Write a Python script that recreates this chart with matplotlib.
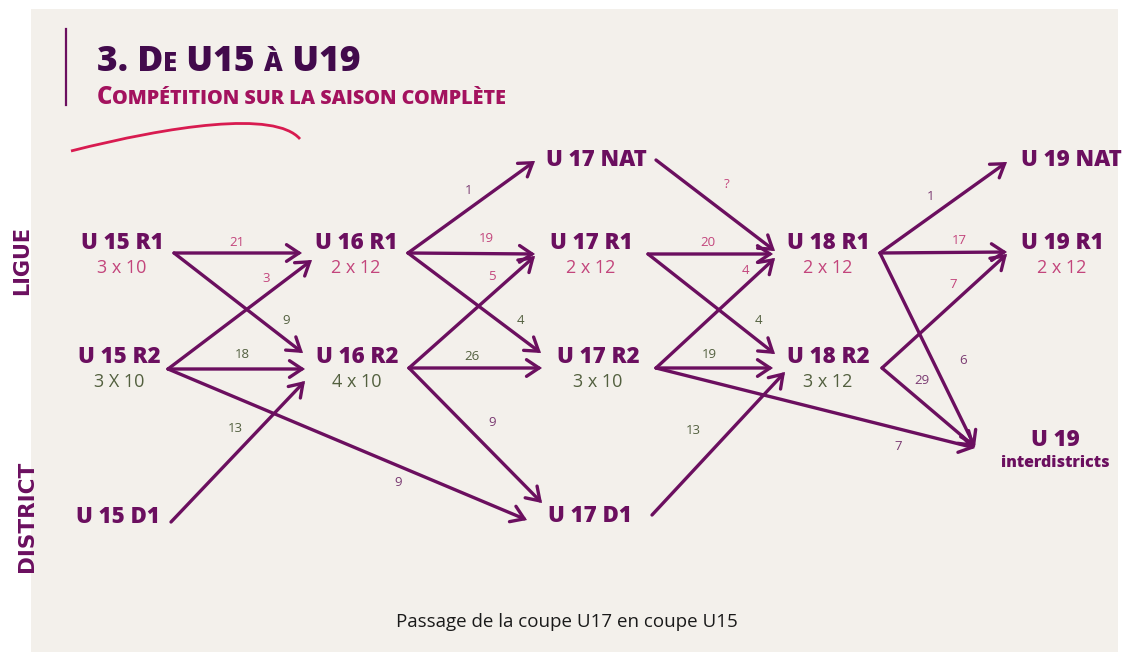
import matplotlib
matplotlib.use("Agg")
import matplotlib.pyplot as plt
from matplotlib.patches import FancyArrowPatch, Rectangle
from matplotlib.path import Path
from matplotlib.patches import PathPatch

# ---------------- data ----------------
node_ids = ["U15R1", "U15R2", "U15D1", "U16R1", "U16R2",
            "U17NAT", "U17R1", "U17R2", "U17D1",
            "U18R1", "U18R2", "U19NAT", "U19R1", "U19I"]
node_labels = ["U 15 R1", "U 15 R2", "U 15 D1", "U 16 R1", "U 16 R2",
               "U 17 NAT", "U 17 R1", "U 17 R2", "U 17 D1",
               "U 18 R1", "U 18 R2", "U 19 NAT", "U 19 R1", "U 19"]
node_sublabels = ["3 x 10", "3 X 10", "", "2 x 12", "4 x 10",
                  "", "2 x 12", "3 x 10", "",
                  "2 x 12", "3 x 12", "", "2 x 12", "interdistricts"]

edge_sources = ["U15R1", "U15R1", "U15R2", "U15R2", "U15R2", "U15D1",
                "U16R1", "U16R1", "U16R1", "U16R2", "U16R2", "U16R2",
                "U17NAT", "U17R1", "U17R1", "U17R2", "U17R2", "U17R2", "U17D1",
                "U18R1", "U18R1", "U18R1", "U18R2", "U18R2"]
edge_targets = ["U16R1", "U16R2", "U16R1", "U16R2", "U17D1", "U16R2",
                "U17NAT", "U17R1", "U17R2", "U17R1", "U17R2", "U17D1",
                "U18R1", "U18R1", "U18R2", "U18R1", "U18R2", "U19I", "U18R2",
                "U19NAT", "U19R1", "U19I", "U19R1", "U19I"]
edge_values = ["21", "9", "3", "18", "9", "13",
               "1", "19", "4", "5", "26", "9",
               "?", "20", "4", "4", "19", "7", "13",
               "1", "17", "6", "7", "29"]

title_parts = [("3. D", "big"), ("E", "small"), (" U15 ", "big"), ("À", "small"), (" U19", "big")]
subtitle_parts = [("C", "big"), ("OMPÉTITION SUR LA SAISON COMPLÈTE", "small")]
side_labels = ["LIGUE", "DISTRICT"]
caption = "Passage de la coupe U17 en coupe U15"

# ---------------- layout (pixel space) ----------------
W, H = 1122, 652
node_pos = {"U15R1": (122, 243), "U15R2": (119, 357), "U15D1": (118, 517),
            "U16R1": (356, 243), "U16R2": (357, 357),
            "U17NAT": (596, 160), "U17R1": (591, 243), "U17R2": (598, 357), "U17D1": (590, 516),
            "U18R1": (828, 243), "U18R2": (828, 357),
            "U19NAT": (1071, 160), "U19R1": (1062, 243), "U19I": (1055, 440)}
out_pt = {"U15R1": (174, 253), "U15R2": (168, 369), "U15D1": (171, 522),
          "U16R1": (408, 253), "U16R2": (409, 368),
          "U17NAT": (656, 160), "U17R1": (648, 254), "U17R2": (656, 368), "U17D1": (652, 515),
          "U18R1": (880, 253), "U18R2": (882, 368)}
tip_pt = {("U15R1", "U16R1"): (302, 253), ("U15R1", "U16R2"): (303, 353),
          ("U15R2", "U16R1"): (312, 260), ("U15R2", "U16R2"): (305, 369),
          ("U15R2", "U17D1"): (527, 520), ("U15D1", "U16R2"): (305, 381),
          ("U16R1", "U17NAT"): (535, 161), ("U16R1", "U17R1"): (535, 254),
          ("U16R1", "U17R2"): (541, 353), ("U16R2", "U17R1"): (535, 256),
          ("U16R2", "U17R2"): (542, 368), ("U16R2", "U17D1"): (542, 503),
          ("U17NAT", "U18R1"): (775, 251), ("U17R1", "U18R1"): (773, 254),
          ("U17R1", "U18R2"): (775, 354), ("U17R2", "U18R1"): (775, 258),
          ("U17R2", "U18R2"): (773, 368), ("U17R2", "U19I"): (975, 448),
          ("U17D1", "U18R2"): (785, 372),
          ("U18R1", "U19NAT"): (1007, 162), ("U18R1", "U19R1"): (1007, 252),
          ("U18R1", "U19I"): (975, 447), ("U18R2", "U19R1"): (1007, 254),
          ("U18R2", "U19I"): (975, 447)}
label_pt = {("U15R1", "U16R1"): (237, 242), ("U15R1", "U16R2"): (286, 321),
            ("U15R2", "U16R1"): (266, 279), ("U15R2", "U16R2"): (242, 354),
            ("U15R2", "U17D1"): (398, 482), ("U15D1", "U16R2"): (235, 428),
            ("U16R1", "U17NAT"): (469, 191), ("U16R1", "U17R1"): (486, 239),
            ("U16R1", "U17R2"): (520, 321), ("U16R2", "U17R1"): (492, 276),
            ("U16R2", "U17R2"): (472, 356), ("U16R2", "U17D1"): (492, 423),
            ("U17NAT", "U18R1"): (727, 185), ("U17R1", "U18R1"): (708, 242),
            ("U17R1", "U18R2"): (758, 321), ("U17R2", "U18R1"): (745, 270),
            ("U17R2", "U18R2"): (709, 355), ("U17R2", "U19I"): (898, 446),
            ("U17D1", "U18R2"): (693, 430),
            ("U18R1", "U19NAT"): (931, 197), ("U18R1", "U19R1"): (959, 241),
            ("U18R1", "U19I"): (963, 360), ("U18R2", "U19R1"): (953, 284),
            ("U18R2", "U19I"): (922, 380)}

# ---------------- style ----------------
BG = "#f3f0eb"
PURPLE = "#6b0f5f"
TITLE_C = "#420a4c"
MAGENTA = "#a3125e"
PINK = "#c3457c"
GREEN = "#53603f"
LBL_PURPLE = "#7a3a72"
RED = "#d81b50"
FONT = ["Open Sans", "DejaVu Sans"]
HEAVY = 800


def level_color(target):
    if target.endswith("R1"):
        return PINK
    if target.endswith("R2"):
        return GREEN
    return LBL_PURPLE


fig = plt.figure(figsize=(W / 100, H / 100), dpi=100)
fig.patch.set_facecolor("white")
ax = fig.add_axes([0, 0, 1, 1])
ax.set_xlim(0, W)
ax.set_ylim(H, 0)
ax.axis("off")

ax.add_patch(Rectangle((31, 9), 1087, 650, facecolor=BG, edgecolor="none", zorder=0))

# header bar and swoosh
ax.plot([66, 66], [29, 105], color=PURPLE, lw=1.6, zorder=2)
swoosh = Path([(71, 151), (170, 126), (275, 110), (300, 139)],
              [Path.MOVETO, Path.CURVE4, Path.CURVE4, Path.CURVE4])
ax.add_patch(PathPatch(swoosh, facecolor="none", edgecolor=RED, lw=2.0, zorder=2))

fig.canvas.draw()
renderer = fig.canvas.get_renderer()


def small_caps(parts, x0, y, sizes, color):
    x = x0
    for txt, kind in parts:
        t = ax.text(x, y, txt, fontsize=sizes[kind], fontweight=HEAVY, color=color,
                    family=FONT, va="baseline", ha="left", zorder=3)
        bb = t.get_window_extent(renderer=renderer)
        x += bb.width * (W / fig.bbox.width)


small_caps(title_parts, 97, 71, {"big": 25.5, "small": 18.5}, TITLE_C)
small_caps(subtitle_parts, 97, 104, {"big": 17, "small": 14.2}, MAGENTA)

# side labels
ax.text(22, 260, side_labels[0], rotation=90, fontsize=15, fontweight="bold",
        color=PURPLE, family=["DejaVu Sans"], ha="center", va="center")
ax.text(27, 516, side_labels[1], rotation=90, fontsize=15.5, fontweight="bold",
        color=PURPLE, family=["DejaVu Sans"], ha="center", va="center")

# nodes
for nid, lab, sub in zip(node_ids, node_labels, node_sublabels):
    x, y = node_pos[nid]
    ax.text(x, y, lab, fontsize=16, fontweight=HEAVY, color=PURPLE, family=FONT,
            ha="center", va="center", zorder=3)
    if sub:
        if nid == "U19I":
            ax.text(x, y + 23, sub, fontsize=11.5, fontweight=HEAVY, color=PURPLE,
                    family=FONT, ha="center", va="center", zorder=3)
        else:
            col = PINK if nid.endswith("R1") else GREEN
            ax.text(x, y + 25, sub, fontsize=13, color=col, family=FONT,
                    ha="center", va="center", zorder=3)

# edges
for s, t, v in zip(edge_sources, edge_targets, edge_values):
    p0 = out_pt[s]
    p1 = tip_pt[(s, t)]
    arr = FancyArrowPatch(p0, p1, arrowstyle="->,head_length=0.45,head_width=0.3",
                          mutation_scale=20, lw=2.4, color=PURPLE,
                          shrinkA=0, shrinkB=0, capstyle="round", joinstyle="miter",
                          zorder=2)
    ax.add_patch(arr)
    lx, ly = label_pt[(s, t)]
    ax.text(lx, ly, v, fontsize=9.5, color=level_color(t), family=FONT,
            ha="center", va="center", zorder=3)

ax.text(567, 622, caption, fontsize=13.5, color="#1a1a1a", family=FONT,
        ha="center", va="center")

fig.savefig("out.png", dpi=100, facecolor="white")
